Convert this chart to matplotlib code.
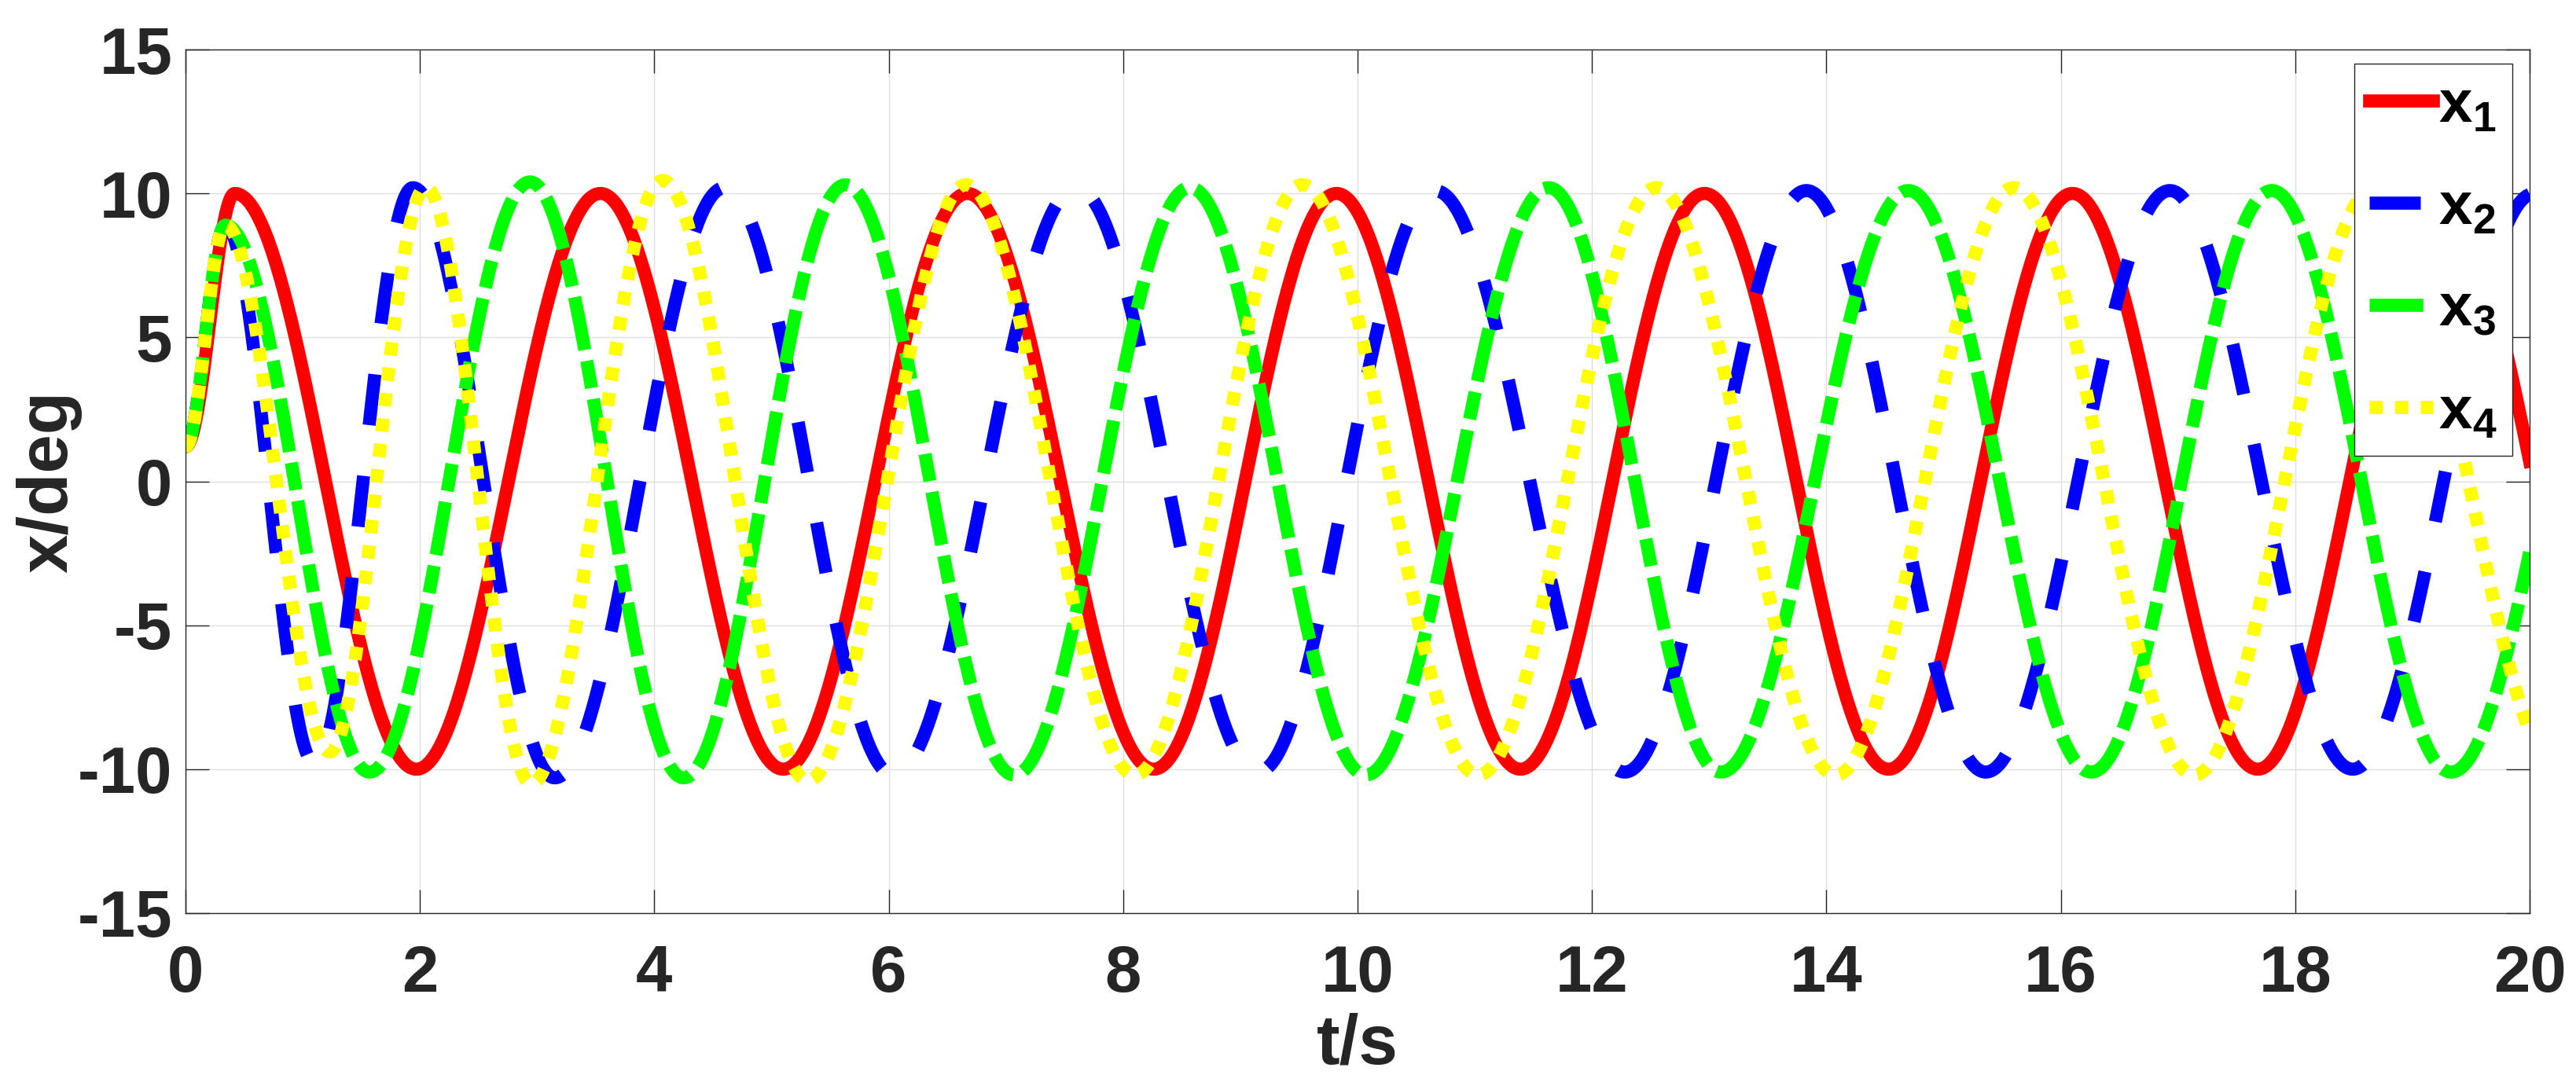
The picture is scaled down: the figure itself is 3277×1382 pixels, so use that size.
import numpy as np
import matplotlib
matplotlib.use('Agg')
import matplotlib.pyplot as plt

plt.rcParams['font.family'] = ['Liberation Sans', 'DejaVu Sans']
plt.rcParams['font.weight'] = 'bold'
plt.rcParams['axes.unicode_minus'] = False
plt.rcParams['mathtext.fontset'] = 'custom'
plt.rcParams['mathtext.rm'] = 'Liberation Sans:bold'
plt.rcParams['mathtext.it'] = 'Liberation Sans:bold'
plt.rcParams['mathtext.bf'] = 'Liberation Sans:bold'

# turning points (time, value): the first node is the
# start value, the last one sits just past t=20 and only sets where each curve ends
t1 = [0, 0.42, 1.97, 3.54, 5.10, 6.67, 8.26, 9.82, 11.39, 12.96, 14.53, 16.10, 17.68, 19.25, 20.82]
x1 = [1.2, 10.0, -10.0, 10.0, -10.0, 10.0, -10.0, 10.0, -10.0, 10.0, -10.0, 10.0, -10.0, 10.0, -10.0]

t2 = [0, 0.34, 1.10, 1.94, 3.15, 4.60, 6.04, 7.60, 9.15, 10.66, 12.28, 13.83, 15.36, 16.93, 18.49, 20.04]
x2 = [1.2, 8.9, -9.8, 10.2, -10.3, 10.2, -10.2, 10.2, -10.1, 10.1, -10.1, 10.1, -10.1, 10.1, -10.0, 10.0]

t3 = [0, 0.34, 1.57, 2.94, 4.25, 5.63, 7.07, 8.57, 10.07, 11.63, 13.10, 14.70, 16.26, 17.80, 19.33, 20.92]
x3 = [1.2, 8.9, -10.1, 10.4, -10.3, 10.3, -10.2, 10.2, -10.2, 10.2, -10.1, 10.1, -10.1, 10.1, -10.1, 10.1]

t4 = [0, 0.34, 1.23, 2.05, 2.95, 4.07, 5.31, 6.66, 8.10, 9.53, 11.03, 12.55, 14.08, 15.60, 17.14, 18.68, 20.28]
x4 = [1.2, 8.9, -9.4, 10.2, -10.5, 10.45, -10.4, 10.3, -10.2, 10.3, -10.2, 10.2, -10.2, 10.2, -10.2, 10.2, -10.2]

labels = [r'$\mathbf{x_1}$', r'$\mathbf{x_2}$', r'$\mathbf{x_3}$', r'$\mathbf{x_4}$']
colors = ['#ff0000', '#0000ff', '#00ff00', '#ffff00']
styles = ['-', (0, (3.9, 3.9)), (0, (4.1, 0.85, 2.1, 0.85)), (0, (1.0, 0.95))]


def through_nodes(ts, vs, t):
    # half-cosine swing between one turning point and the next
    ts = np.asarray(ts, dtype=float)
    vs = np.asarray(vs, dtype=float)
    i = np.clip(np.searchsorted(ts, t, side='right') - 1, 0, len(ts) - 2)
    s = (t - ts[i]) / (ts[i + 1] - ts[i])
    return vs[i] + (vs[i + 1] - vs[i]) * (1 - np.cos(np.pi * s)) / 2


t = np.linspace(0, 20, 4001)

fig = plt.figure(figsize=(32.77, 13.82), dpi=100)
ax = fig.add_axes([0.0720, 0.1592, 0.9100, 0.7952])

for (ts, vs), lab, c, ls in zip([(t1, x1), (t2, x2), (t3, x3), (t4, x4)], labels, colors, styles):
    ax.plot(t, through_nodes(ts, vs, t), color=c, linestyle=ls, lw=12, label=lab)

ax.set_xlim(0, 20)
ax.set_ylim(-15, 15)
ax.set_xticks(np.arange(0, 21, 2))
ax.set_yticks(np.arange(-15, 16, 5))
ax.grid(True, color='#dedede', lw=1.0)
ax.set_axisbelow(True)
for sp in ax.spines.values():
    sp.set_color('#262626')
    sp.set_linewidth(1.0)
ax.tick_params(direction='in', length=21.6, width=1, top=True, right=True,
               labelsize=60, colors='#262626')
ax.tick_params(axis='x', pad=28)
ax.tick_params(axis='y', pad=12)

ax.set_xlabel('t/s', fontsize=64, fontweight='bold', color='#262626')
ax.set_ylabel('x/deg', fontsize=64, fontweight='bold', color='#262626')
ax.xaxis.set_label_coords(0.5, -0.115)
ax.yaxis.set_label_coords(-0.044, 0.5)

leg = ax.legend(loc='upper right', bbox_to_anchor=(1 - 22 / 2982, 1 - 18 / 1099),
                borderaxespad=0, fontsize=55, handlelength=1.06,
                handletextpad=0.1, borderpad=0.25, labelspacing=0.77,
                fancybox=False, framealpha=1)
leg.get_frame().set_edgecolor('#262626')
leg.get_frame().set_linewidth(1.0)

fig.savefig('out.png', dpi=100, facecolor='white')
